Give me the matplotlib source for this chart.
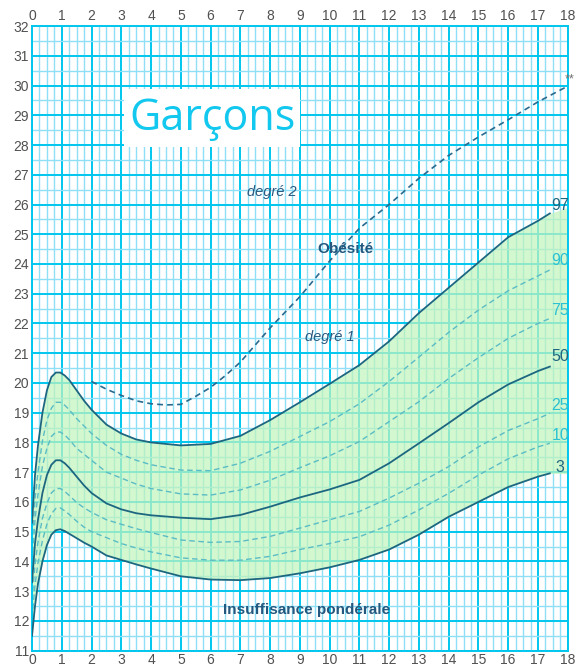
import matplotlib
matplotlib.use("Agg")
import matplotlib.pyplot as plt
from matplotlib.patches import Rectangle
from matplotlib.ticker import MultipleLocator

# ---------------- data (BMI, boys) ----------------
ages = [0, 0.1, 0.2, 0.35, 0.5, 0.65, 0.8, 0.95, 1.1, 1.25, 1.5, 1.75, 2,
        2.5, 3, 3.5, 4, 5, 6, 7, 8, 9, 10, 11, 12, 13, 14, 15, 16, 17, 17.4]
p97 = [15.3, 16.9, 17.9, 19.0, 19.75, 20.2, 20.35, 20.35, 20.25, 20.1, 19.75,
       19.4, 19.1, 18.6, 18.3, 18.1, 18.0, 17.9, 17.95, 18.22, 18.75, 19.35,
       19.97, 20.6, 21.4, 22.35, 23.2, 24.05, 24.9, 25.45, 25.7]
p90 = [14.6, 16.1, 17.0, 18.05, 18.75, 19.15, 19.35, 19.35, 19.25, 19.1, 18.8,
       18.55, 18.3, 17.9, 17.6, 17.4, 17.25, 17.07, 17.05, 17.3, 17.7, 18.2,
       18.7, 19.3, 20.05, 20.87, 21.7, 22.45, 23.1, 23.6, 23.8]
p75 = [14.0, 15.4, 16.25, 17.2, 17.8, 18.2, 18.35, 18.35, 18.25, 18.1, 17.8,
       17.6, 17.4, 17.0, 16.8, 16.6, 16.45, 16.27, 16.23, 16.4, 16.73, 17.15,
       17.55, 18.03, 18.7, 19.37, 20.15, 20.85, 21.5, 22.0, 22.17]
p50 = [13.3, 14.6, 15.4, 16.3, 16.9, 17.25, 17.4, 17.4, 17.3, 17.15, 16.85,
       16.55, 16.3, 15.95, 15.75, 15.62, 15.55, 15.47, 15.42, 15.56, 15.84,
       16.15, 16.42, 16.74, 17.3, 17.97, 18.65, 19.35, 19.95, 20.4, 20.55]
p25 = [12.7, 13.9, 14.65, 15.45, 15.95, 16.3, 16.45, 16.45, 16.35, 16.22,
       15.98, 15.8, 15.65, 15.4, 15.25, 15.1, 14.97, 14.72, 14.64, 14.67,
       14.84, 15.12, 15.4, 15.68, 16.13, 16.63, 17.19, 17.85, 18.4, 18.8, 18.98]
p10 = [12.1, 13.2, 13.95, 14.7, 15.25, 15.6, 15.78, 15.8, 15.7, 15.58, 15.35,
       15.15, 15.0, 14.8, 14.6, 14.45, 14.32, 14.12, 14.04, 14.04, 14.17, 14.4,
       14.6, 14.83, 15.22, 15.73, 16.29, 16.9, 17.45, 17.85, 17.97]
p3 = [11.5, 12.5, 13.25, 14.0, 14.55, 14.9, 15.05, 15.08, 15.02, 14.93, 14.78,
      14.63, 14.5, 14.2, 14.05, 13.9, 13.76, 13.5, 13.39, 13.37, 13.44, 13.6,
      13.8, 14.05, 14.4, 14.9, 15.5, 16.0, 16.5, 16.85, 16.96]

# green band runs on to the right edge
band_end_age = 18
band_end_top = 25.9
band_end_bottom = 16.95

# obesity threshold (degre 2)
ob_ages = [2, 2.5, 3, 3.5, 4, 4.5, 5, 5.5, 6, 6.5, 7, 8, 9, 10, 11, 12, 13,
           14, 15, 16, 17, 18]
ob_vals = [20.05, 19.79, 19.58, 19.4, 19.3, 19.26, 19.28, 19.55, 19.85, 20.25,
           20.7, 21.85, 22.9, 24.1, 25.2, 26.0, 26.88, 27.65, 28.27, 28.85,
           29.45, 29.98]

labels = ["97", "90", "75", "50", "25", "10", "3"]
label_y = [25.98, 24.13, 22.45, 20.88, 19.23, 18.25, 17.17]

# ---------------- plot ----------------
dark = "#1d6680"
light = "#5bbcc4"
cyan_major = "#00c6ee"
cyan_minor = "#8fe0f6"

plt.rcParams["font.family"] = ["Liberation Sans", "DejaVu Sans"]

fig = plt.figure(figsize=(5.76, 6.68), dpi=100)
ax = fig.add_axes([0.0556, 0.026, 0.93, 0.935])
ax.set_xlim(0, 18)
ax.set_ylim(11, 32)

ax.xaxis.set_major_locator(MultipleLocator(1))
ax.xaxis.set_minor_locator(MultipleLocator(0.25))
ax.yaxis.set_major_locator(MultipleLocator(1))
ax.yaxis.set_minor_locator(MultipleLocator(0.5))
ax.set_axisbelow(True)
ax.grid(which="major", color=cyan_major, lw=1.4)
ax.grid(which="minor", color=cyan_minor, lw=1.0)
for s in ax.spines.values():
    s.set_color(cyan_major)
    s.set_linewidth(1.4)

ax.tick_params(which="both", length=0, labelsize=10, labelcolor="#505050",
               top=True, labeltop=True, bottom=True, labelbottom=True, pad=2)

# band
ax.fill_between(ages + [band_end_age], p3 + [band_end_bottom],
                p97 + [band_end_top], color="#c2f4bd", alpha=0.72, lw=0,
                zorder=1)

for s in [p90, p75, p25, p10]:
    ax.plot(ages, s, color=light, lw=1.0, ls=(0, (4, 2.5)), zorder=2)
for s in [p97, p50, p3]:
    ax.plot(ages, s, color=dark, lw=1.3, zorder=3)

ax.plot(ob_ages, ob_vals, color="#2a6a8e", lw=1.2, ls=(0, (3.5, 2.5)),
        zorder=3)

for lab, yy in zip(labels, label_y):
    col = dark if lab in ("97", "50", "3") else "#2cc2d2"
    ax.text(17.75, yy, lab, color=col, fontsize=11.5, ha="center",
            va="center", zorder=4)

ax.text(18.05, 30.2, "**", color="#707070", fontsize=9, ha="center",
        va="center", clip_on=False, zorder=4)

# title box
ax.add_patch(Rectangle((3.1, 27.95), 5.9, 1.95, facecolor="white",
                       edgecolor="none", zorder=4))
ax.text(6.05, 28.9, "Garçons", color="#12c8ee", fontsize=31,
        family=["Open Sans", "DejaVu Sans"], ha="center", va="center",
        zorder=5)

ax.text(8.05, 26.43, "degré 2", color="#2a5a80", fontsize=10.5,
        style="italic", ha="center", va="center", zorder=4)
ax.text(10.0, 21.55, "degré 1", color="#2a5a80", fontsize=10.5,
        style="italic", ha="center", va="center", zorder=4)
ax.text(10.52, 24.5, "Obésité", color="#24587e", fontsize=11,
        fontweight="bold", ha="center", va="center", zorder=4)
ax.text(9.23, 12.35, "Insuffisance pondérale", color="#24587e", fontsize=11,
        fontweight="bold", ha="center", va="center", zorder=4)

fig.savefig("out.png", dpi=100)
